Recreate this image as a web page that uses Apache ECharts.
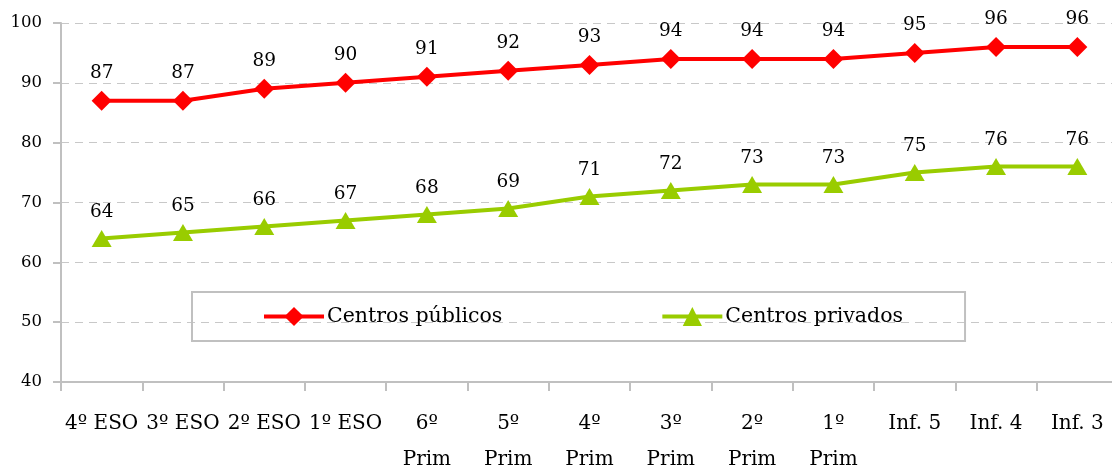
<!DOCTYPE html>
<html>
<head>
<meta charset="utf-8">
<script src="https://cdn.jsdelivr.net/npm/echarts@6/dist/echarts.min.js"></script>
<style>
html,body{margin:0;padding:0;background:#fff;}
#chart{width:1112px;height:471px;}
</style>
</head>
<body>
<div id="chart"></div>
<script>
const categories = ['4º ESO','3º ESO','2º ESO','1º ESO','6º Prim','5º Prim','4º Prim','3º Prim','2º Prim','1º Prim','Inf. 5','Inf. 4','Inf. 3'];
const publicos = [87,87,89,90,91,92,93,94,94,94,95,96,96];
const privados = [64,65,66,67,68,69,71,72,73,73,75,76,76];
const yTicks = {min:40, max:100, interval:10};

const FONT = 'DejaVu Serif';
const chart = echarts.init(document.getElementById('chart'));
chart.setOption({
  backgroundColor:'#fff',
  animation:false,
  textStyle:{fontFamily:FONT},
  grid:{left:61, top:23, width:1057, height:359, containLabel:false, outerBoundsMode:'none'},
  legend:{
    left:192, top:292,
    padding:[14,62,14,70],
    itemGap:158,
    itemWidth:60, itemHeight:24,
    borderColor:'#c0c0c0', borderWidth:2,
    lineStyle:{width:4},
    textStyle:{fontFamily:FONT, fontSize:20.5, color:'#000', padding:[0,0,0,-2]},
    data:['Centros públicos','Centros privados']
  },
  xAxis:{
    type:'category', data:categories, boundaryGap:true,
    axisLine:{lineStyle:{color:'#c0c0c0', width:2}},
    axisTick:{show:true, length:9, lineStyle:{color:'#c0c0c0', width:2}},
    axisLabel:{
      interval:0, color:'#000', fontFamily:FONT, fontSize:20, margin:24, lineHeight:36,
      formatter: v => v.replace(' Prim','\nPrim')
    }
  },
  yAxis:{
    type:'value', min:yTicks.min, max:yTicks.max, interval:yTicks.interval,
    axisLine:{show:true, lineStyle:{color:'#c0c0c0', width:2}},
    axisTick:{show:true, length:8, lineStyle:{color:'#c0c0c0', width:2}},
    axisLabel:{color:'#000', fontFamily:FONT, fontSize:16.5, margin:19},
    splitLine:{show:true, lineStyle:{color:'#c8c8c8', type:[8,6], width:1}}
  },
  series:[
    {
      name:'Centros públicos', type:'line', data:publicos,
      symbol:'diamond', symbolSize:20,
      lineStyle:{color:'#ff0000', width:4},
      itemStyle:{color:'#ff0000'},
      label:{show:true, position:'top', distance:8, color:'#000', fontFamily:FONT, fontSize:18.5}
    },
    {
      name:'Centros privados', type:'line', data:privados,
      symbol:'triangle', symbolSize:[20,17],
      lineStyle:{color:'#99cc00', width:4},
      itemStyle:{color:'#99cc00'},
      label:{show:true, position:'top', distance:8, color:'#000', fontFamily:FONT, fontSize:18.5}
    }
  ]
});
</script>
</body>
</html>
